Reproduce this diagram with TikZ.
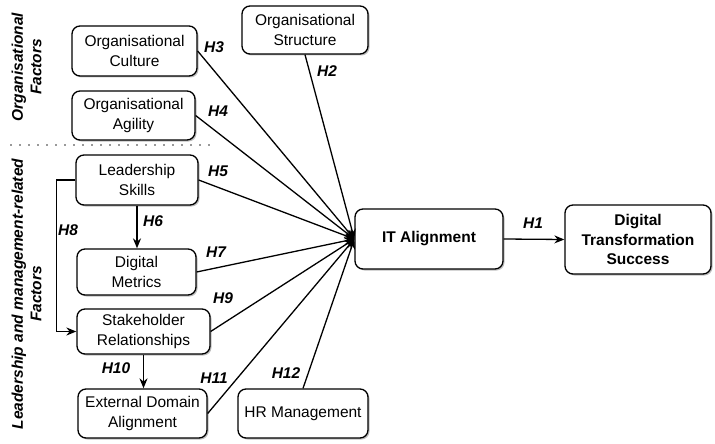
\documentclass[tikz,border=0pt]{standalone}
\usepackage{fontspec}
\setmainfont{Liberation Sans}
\usetikzlibrary{arrows.meta,shadows}

\tikzset{
  box/.style={draw=black, line width=1.3pt, rounded corners=8pt, fill=white,
    align=center, inner sep=2pt,
    font=\fontsize{15.5}{20}\selectfont,
    drop shadow={shadow xshift=1.5pt, shadow yshift=-1.5pt, opacity=0.25, fill=black}},
  boldbox/.style={box, font=\fontsize{15.5}{19.5}\selectfont\bfseries},
  hyp/.style={font=\fontsize{15.5}{18.5}\selectfont\bfseries\itshape, inner sep=0pt},
  grp/.style={font=\fontsize{15.5}{18.5}\selectfont\bfseries\itshape, align=center,
    rotate=90, inner sep=0pt},
  link/.style={line width=1.3pt, -{Stealth[length=10pt,width=8pt]}},
  sep/.style={line width=1.6pt, gray!80, dash pattern=on 1.5pt off 7.5pt}
}

\begin{document}
\begin{tikzpicture}[x=1pt,y=-1pt]
\useasboundingbox (0,0) rectangle (715,444);

% factor boxes
\node[box, minimum width=125pt, minimum height=50pt] (cult)  at (134.5,51)  {Organisational\\Culture};
\node[box, minimum width=123pt, minimum height=49pt] (agil)  at (133.5,115.5) {Organisational\\Agility};
\node[box, minimum width=126pt, minimum height=48pt] (struc) at (305,30)    {Organisational\\Structure};
\node[box, minimum width=122pt, minimum height=50pt] (lead)  at (137,180)   {Leadership\\Skills};
\node[box, minimum width=119pt, minimum height=46pt] (metr)  at (136.5,272) {Digital\\Metrics};
\node[box, minimum width=133pt, minimum height=45pt] (stak)  at (143.5,331.5) {Stakeholder\\Relationships};
\node[box, minimum width=129pt, minimum height=49pt] (ext)   at (142.5,413.5) {External Domain\\Alignment};
\node[box, minimum width=130pt, minimum height=49pt] (hrm)   at (303,413.5) {HR Management};

% outcome boxes
\node[boldbox, minimum width=148pt, minimum height=60pt] (ita) at (429,239) {IT Alignment};
\node[boldbox, minimum width=146pt, minimum height=69pt] (dts) at (638,239.5) {Digital\\Transformation\\Success};

% group captions and divider
\node[grp] (gorg) at (26.5,67)  {Organisational\\Factors};
\node[grp] (glead) at (26.5,294) {Leadership and management-related\\Factors};
\coordinate (sepL) at (10,145);
\coordinate (sepR) at (210,145);
\draw[sep] (sepL) -- (sepR);

% hypothesised paths
\draw[link] (struc.south) -- (ita.west);
\draw[link] (cult.east)   -- (ita.west);
\draw[link] (agil.east)   -- (ita.west);
\draw[link] (lead.east)   -- (ita.west);
\draw[link] (metr.east)   -- (ita.west);
\draw[link] (stak.east)   -- (ita.west);
\draw[link] (ext.east)    -- (ita.west);
\draw[link] (hrm.north)   -- (ita.west);
\draw[link] (lead.south)  -- (lead.south |- metr.north);
\draw[link] (stak.south)  -- (stak.south |- ext.north);
\draw[link] (lead.west) -- ++(-19,0) |- (stak.west);
\draw[link] (ita.east) -- (dts.west);

% path labels
\node[hyp] (h1)  at (533,223) {H1};
\node[hyp] (h2)  at (327,71)  {H2};
\node[hyp] (h3)  at (214,47)  {H3};
\node[hyp] (h4)  at (218,111) {H4};
\node[hyp] (h5)  at (218,171) {H5};
\node[hyp] (h6)  at (153,221) {H6};
\node[hyp] (h7)  at (216,252) {H7};
\node[hyp] (h8)  at (68,230)  {H8};
\node[hyp] (h9)  at (223,298) {H9};
\node[hyp] (h10) at (116,368) {H10};
\node[hyp] (h11) at (214,378) {H11};
\node[hyp] (h12) at (286,373) {H12};
\end{tikzpicture}
\end{document}
